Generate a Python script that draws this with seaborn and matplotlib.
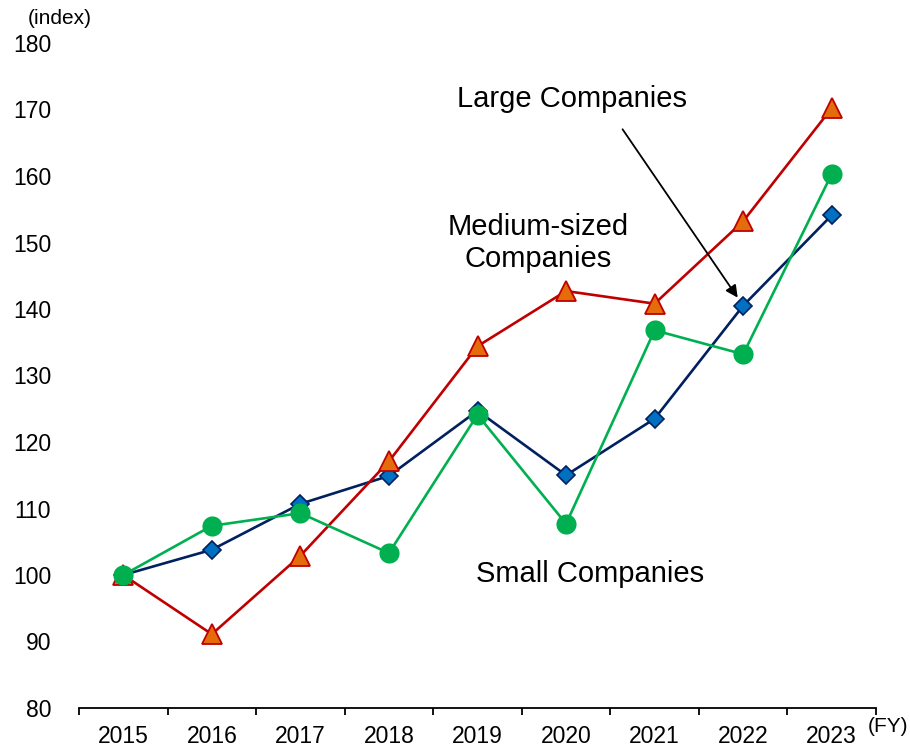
import matplotlib
matplotlib.use("Agg")
import matplotlib.pyplot as plt
from matplotlib.ticker import FixedLocator
import seaborn as sns
import pandas as pd

years = ["2015", "2016", "2017", "2018", "2019", "2020", "2021", "2022", "2023"]
large = [100, 103.8, 110.7, 114.9, 124.7, 115.0, 123.5, 140.5, 154.1]
medium = [100, 91.1, 102.9, 117.1, 134.4, 142.7, 140.8, 153.2, 170.2]
small = [100, 107.4, 109.3, 103.3, 124.1, 107.7, 136.8, 133.2, 160.3]
yticks = [80, 90, 100, 110, 120, 130, 140, 150, 160, 170, 180]

sns.set_style("white")
plt.rcParams["font.family"] = ["Liberation Sans", "DejaVu Sans"]
plt.rcParams["text.color"] = "black"
plt.rcParams["xtick.color"] = "black"
plt.rcParams["ytick.color"] = "black"
plt.rcParams["xtick.labelcolor"] = "black"
plt.rcParams["ytick.labelcolor"] = "black"

fig = plt.figure(figsize=(9.10, 7.46), dpi=100)
ax = fig.add_axes([79/910, 1-708/746, (876-79)/910, (708-43)/746])

pos = list(range(len(years)))
df = pd.DataFrame({"pos": pos * 3,
                   "value": large + medium + small,
                   "series": ["Large"] * 9 + ["Medium"] * 9 + ["Small"] * 9})

styles = {
    "Large": dict(color="#002060", marker="D", markersize=9.5,
                  markerfacecolor="#0070C0", markeredgecolor="#002060", markeredgewidth=1.2),
    "Medium": dict(color="#C00000", marker="^", markersize=14,
                   markerfacecolor="#E46C0A", markeredgecolor="#C00000", markeredgewidth=1.3),
    "Small": dict(color="#00B050", marker="o", markersize=14.5,
                  markerfacecolor="#00B050", markeredgecolor="#00B050", markeredgewidth=0),
}
for name in ["Large", "Medium", "Small"]:
    sub = df[df["series"] == name]
    sns.lineplot(data=sub, x="pos", y="value", ax=ax, linewidth=1.9,
                 legend=False, **styles[name])

ax.set_xlim(-0.5, len(years) - 0.5)
ax.set_ylim(80, 180)
ax.set_yticks(yticks)
ax.set_yticklabels([str(t) for t in yticks])
ax.set_xticks(pos)
ax.set_xticklabels(years)
ax.xaxis.set_minor_locator(FixedLocator([p - 0.5 for p in range(len(years) + 1)]))
ax.tick_params(axis="x", which="major", length=0, pad=12, labelsize=16.5, colors="black")
ax.tick_params(axis="x", which="minor", length=5, width=1.3, direction="out", color="black", bottom=True)
ax.tick_params(axis="y", length=0, pad=20, labelsize=16.5, colors="black")
ax.set_xlabel("")
ax.set_ylabel("")
for s in ["left", "right", "top"]:
    ax.spines[s].set_visible(False)
ax.spines["bottom"].set_color("black")
ax.spines["bottom"].set_linewidth(1.3)
ax.grid(False)

fig.text(60/910, 1-18/746, "(index)", fontsize=15, ha="center", va="center", color="black")
fig.text(888/910, 1-727/746, "(FY)", fontsize=15, ha="center", va="center", color="black")

fig.text(572/910, 1-99/746, "Large Companies", fontsize=21, ha="center", va="center", color="black")
fig.text(538/910, 1-243/746, "Medium-sized\nCompanies", fontsize=21, ha="center",
         va="center", linespacing=1.22, color="black")
fig.text(590/910, 1-574/746, "Small Companies", fontsize=21, ha="center", va="center", color="black")

ax.annotate("", xy=(7, large[7]), xytext=(621/910, 1-127/746),
            textcoords="figure fraction",
            arrowprops=dict(arrowstyle="-|>", color="black", lw=1.3,
                            mutation_scale=18, shrinkB=7))

fig.savefig("out.png", dpi=100)
